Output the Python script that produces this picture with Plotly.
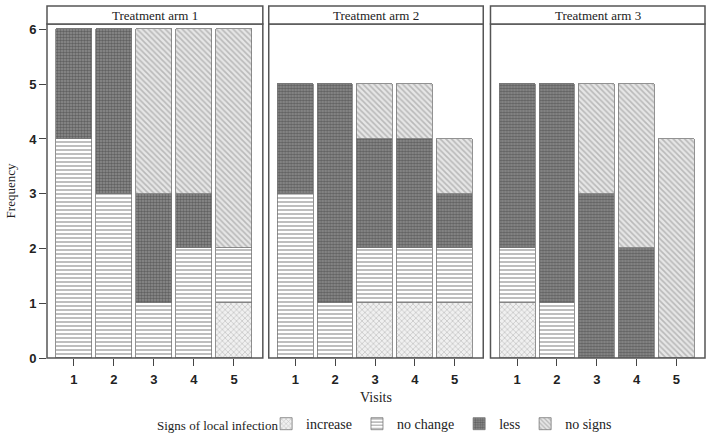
import plotly.graph_objects as go

visits = [1, 2, 3, 4, 5]
arms = ["Treatment arm 1", "Treatment arm 2", "Treatment arm 3"]
categories = ["increase", "no change", "less", "no signs"]

# values[arm][category] per visit
arm1 = {
    "increase":  [0, 0, 0, 0, 1],
    "no change": [4, 3, 1, 2, 1],
    "less":      [2, 3, 2, 1, 0],
    "no signs":  [0, 0, 3, 3, 4],
}
arm2 = {
    "increase":  [0, 0, 1, 1, 1],
    "no change": [3, 1, 1, 1, 1],
    "less":      [2, 4, 2, 2, 1],
    "no signs":  [0, 0, 1, 1, 1],
}
arm3 = {
    "increase":  [1, 0, 0, 0, 0],
    "no change": [1, 1, 0, 0, 0],
    "less":      [3, 4, 3, 2, 0],
    "no signs":  [0, 0, 2, 3, 4],
}
arm_data = [arm1, arm2, arm3]
y_ticks = [0, 1, 2, 3, 4, 5, 6]

styles = {
    "increase":  dict(shape="x", fgcolor="#8a8a8a", bgcolor="#f0f0f0", size=4, solidity=0.3),
    "no change": dict(shape="-", fgcolor="#6e6e6e", bgcolor="#ffffff", size=4, solidity=0.45),
    "less":      dict(shape=".", fgcolor="#333333", bgcolor="#8f8f8f", size=3, solidity=0.55),
    "no signs":  dict(shape="\\", fgcolor="#8c8c8c", bgcolor="#e6e6e6", size=4, solidity=0.4),
}

fig = go.Figure()
domains = [[0.0, 0.328], [0.337, 0.663], [0.674, 1.0]]
for i, (arm, data) in enumerate(zip(arms, arm_data)):
    xa = "x" if i == 0 else f"x{i+1}"
    for cat in categories:
        st = styles[cat]
        fig.add_trace(go.Bar(
            x=visits, y=data[cat], name=cat, xaxis=xa, yaxis="y",
            legendgroup=cat, showlegend=(i == 0), width=0.9,
            marker=dict(color=st["bgcolor"],
                        line=dict(color="#777777", width=0.8),
                        pattern=dict(shape=st["shape"], fgcolor=st["fgcolor"],
                                     bgcolor=st["bgcolor"], size=st["size"],
                                     solidity=st["solidity"])),
        ))

tickfont = dict(family="Liberation Sans", size=13, color="#222", weight="bold")
layout = dict(
    width=709, height=437,
    margin=dict(l=47, r=4, t=24, b=79, autoexpand=False),
    paper_bgcolor="white", plot_bgcolor="white",
    barmode="stack", bargap=0,
    font=dict(family="Liberation Serif", size=13, color="#222"),
    showlegend=True,
    legend=dict(orientation="h", x=0.333, y=-0.15, xanchor="left", yanchor="top",
                font=dict(family="Liberation Serif", size=14),
                itemwidth=30, traceorder="normal"),
    yaxis=dict(range=[0, 6.1], tickvals=y_ticks, ticks="outside", ticklen=7,
               tickcolor="#444", showgrid=False, zeroline=False, automargin=False,
               tickfont=tickfont,
               title=dict(text="Frequency", font=dict(family="Liberation Serif", size=13), standoff=10),
               anchor="x"),
)
for i in range(3):
    key = "xaxis" if i == 0 else f"xaxis{i+1}"
    layout[key] = dict(domain=domains[i], range=[0.33, 5.72], tickvals=visits,
                       ticks="outside", ticklen=7, tickcolor="#444", ticklabelstandoff=2,
                       showgrid=False, zeroline=False, anchor="y", automargin=False,
                       tickfont=tickfont)
layout["xaxis2"]["title"] = dict(text="Visits", font=dict(family="Liberation Serif", size=14), standoff=6)
fig.update_layout(**layout)

# legend title as text
fig.add_annotation(xref="paper", yref="paper", x=(155 - 47) / 658, y=(437 - 79 - 425) / 334,
                   text="Signs of local infection", showarrow=False, xanchor="left", yanchor="middle",
                   font=dict(family="Liberation Serif", size=13, color="#222"))

# panel boxes and strip titles
strip_h = 18 / 334
for i, arm in enumerate(arms):
    x0, x1 = domains[i]
    fig.add_shape(type="rect", xref="paper", yref="paper", x0=x0, x1=x1, y0=0, y1=1,
                  line=dict(color="#555", width=1.5), fillcolor="rgba(0,0,0,0)", layer="above")
    fig.add_shape(type="rect", xref="paper", yref="paper", x0=x0, x1=x1, y0=1, y1=1 + strip_h,
                  line=dict(color="#555", width=1.5), fillcolor="white")
    fig.add_annotation(xref="paper", yref="paper", x=(x0 + x1) / 2, y=1 + strip_h / 2,
                       text=arm, showarrow=False, xanchor="center", yanchor="middle",
                       font=dict(family="Liberation Serif", size=13, color="#222"))

fig.write_html("out.html", config={"displayModeBar": False},
               post_script="document.body.style.margin='0px';")
